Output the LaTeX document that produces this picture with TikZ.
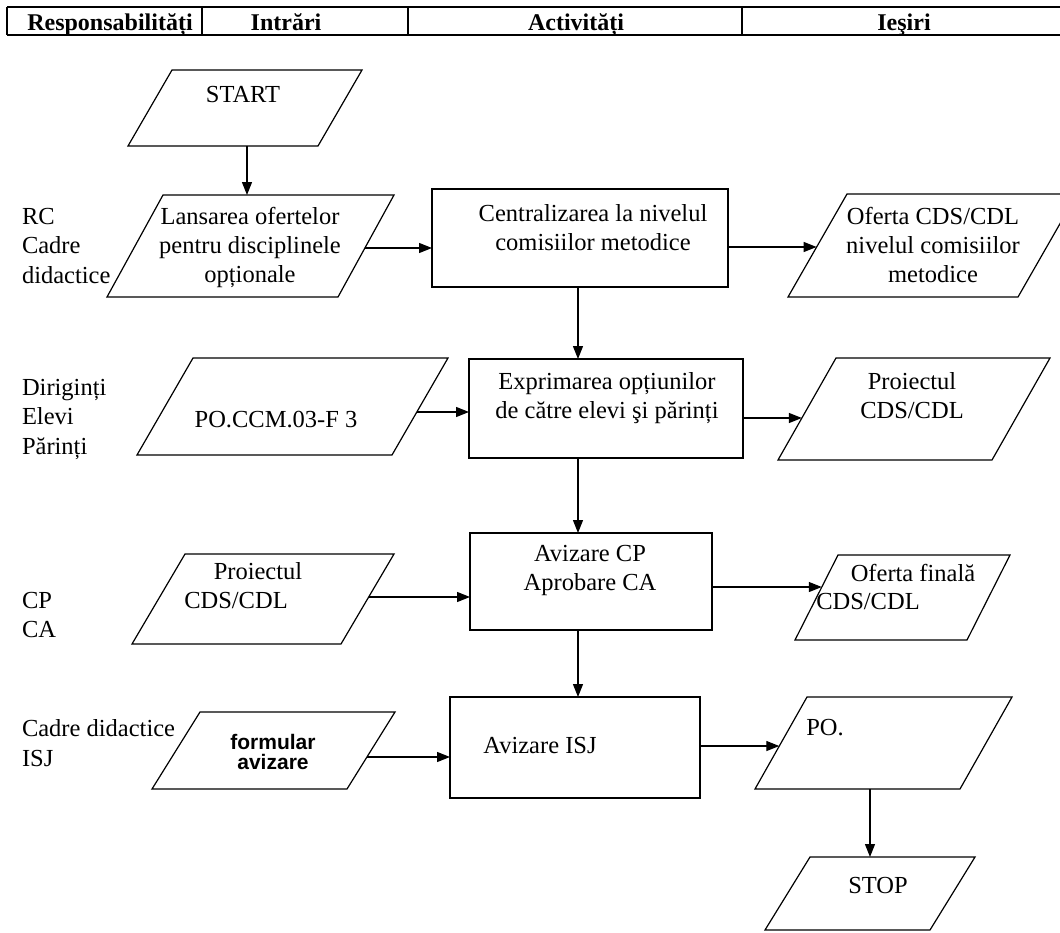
\documentclass[tikz,border=0pt]{standalone}
\usepackage{fontspec}
\setmainfont{Liberation Serif}
\newfontfamily\sansfnt{Liberation Sans}
\usetikzlibrary{arrows.meta}
% parallelogram: x bottom-left, y bottom, x top-left, y top, width
\newcommand\pgram[5]{\draw (#1,#2) -- ++(#5,0) -- (#3+#5,#4) -- (#3,#4) -- cycle;}
\begin{document}
\begin{tikzpicture}[x=1pt,y=-1pt, line width=1.2pt,
  every node/.style={inner sep=0pt,outer sep=0pt},
  txt/.style={font=\fontsize{24.5}{29}\selectfont, align=center},
  lbl/.style={font=\fontsize{24.5}{29.5}\selectfont, align=left, anchor=west},
  hdr/.style={font=\bfseries\fontsize{24}{28}\selectfont, anchor=base},
  proc/.style={draw, rectangle, anchor=north west},
  arr/.style={-{Triangle[length=13pt,width=10pt]}}]
\useasboundingbox (0,0) rectangle (1060,932);

% header
\draw[line width=1.6pt] (7,7) -- (1060,7) (7,35) -- (1060,35);
\draw[line width=1.3pt] (7,7) -- (7,35) (202,7) -- (202,35) (408,7) -- (408,35) (742,7) -- (742,35);
\node[hdr] (h1) at (110,30.5) {Responsabilități};
\node[hdr] (h2) at (286,30.5) {Intrări};
\node[hdr] (h3) at (576,30.5) {Activități};
\node[hdr] (h4) at (904,30.5) {Ieşiri};

% left labels
\node[lbl] (r1) at (22,246) {RC\\Cadre\\didactice};
\node[lbl] (r2) at (22,419) {Diriginți\\Elevi\\Părinți};
\node[lbl] (r3) at (22,615) {CP\\CA};
\node[lbl] (r4) at (22,743) {Cadre didactice\\ISJ};

% parallelograms (inputs / outputs)
\pgram{128}{146}{172}{70}{190}
\node[txt] (tstart) at (243,95) {START};
\pgram{107}{297}{163}{195}{231}
\node[txt] (tlans) at (250,247) {Lansarea ofertelor\\pentru disciplinele\\opționale};
\pgram{788}{297}{847}{194}{230}
\node[txt] (tofer) at (933,245) {Oferta CDS/CDL\\nivelul comisiilor\\metodice};
\pgram{137}{455}{193}{358}{255}
\node[txt] (tpoccm) at (276,420) {PO.CCM.03-F 3};
\pgram{778}{460}{836}{358}{214}
\node[txt] (tproO) at (912,396) {Proiectul\\CDS/CDL};
\pgram{132}{644}{185}{554}{209}
\node[txt] (tproI1) at (258,571) {Proiectul};
\node[txt] (tproI2) at (236,600) {CDS/CDL};
\pgram{795}{640}{838}{555}{172}
\node[txt] (tofF1) at (913,573) {Oferta finală};
\node[txt] (tofF2) at (868,601) {CDS/CDL};
\pgram{152}{789}{200}{712}{195}
\node[align=center, font=\sansfnt\bfseries\fontsize{21}{20.5}\selectfont] (tform) at (273,752) {formular\\avizare};
\pgram{755}{789}{807}{697}{205}
\node[txt] (tpo) at (825,728) {PO.};
\pgram{765}{930}{810}{857}{165}
\node[txt] (tstop) at (878,885) {STOP};

% process boxes
\node[proc, minimum width=296pt, minimum height=98pt] (cent) at (432,189) {};
\node[txt] (tcent) at (593,228) {Centralizarea la nivelul\\comisiilor metodice};
\node[proc, minimum width=274pt, minimum height=99pt] (expr) at (469,359) {};
\node[txt] (texpr) at (607,398) {Exprimarea opțiunilor\\de către elevi şi părinți};
\node[proc, minimum width=242pt, minimum height=97pt] (avcp) at (470,533) {};
\node[txt] (tavcp) at (590,570) {Avizare CP\\Aprobare CA};
\node[proc, minimum width=250pt, minimum height=101pt] (avisj) at (450,697) {};
\node[txt] (tavisj) at (540,745) {Avizare ISJ};

% connection points on parallelogram edges
\coordinate (startB) at (247,146);
\coordinate (lansT) at (247,195);
\coordinate (lansR) at (364.9,248);
\coordinate (oferL) at (816.6,247);
\coordinate (poccmR) at (416.8,412);
\coordinate (proOL) at (801.9,418);
\coordinate (proIR) at (368.7,597);
\coordinate (ofFL) at (821.8,587);
\coordinate (formR) at (366.9,757);
\coordinate (poL) at (779.3,746);
\coordinate (poB) at (870,789);
\coordinate (stopT) at (870,857);
\coordinate (spine) at (578,0);

% connectors
\draw[arr] (startB) -- (lansT);
\draw[arr] (lansR) -- (lansR -| cent.west);
\draw[arr] (cent.east |- oferL) -- (oferL);
\draw[arr] (cent.south -| spine) -- (expr.north -| spine);
\draw[arr] (poccmR) -- (poccmR -| expr.west);
\draw[arr] (expr.east |- proOL) -- (proOL);
\draw[arr] (expr.south -| spine) -- (avcp.north -| spine);
\draw[arr] (proIR) -- (proIR -| avcp.west);
\draw[arr] (avcp.east |- ofFL) -- (ofFL);
\draw[arr] (avcp.south -| spine) -- (avisj.north -| spine);
\draw[arr] (formR) -- (formR -| avisj.west);
\draw[arr] (avisj.east |- poL) -- (poL);
\draw[arr] (poB) -- (stopT);
\end{tikzpicture}
\end{document}
